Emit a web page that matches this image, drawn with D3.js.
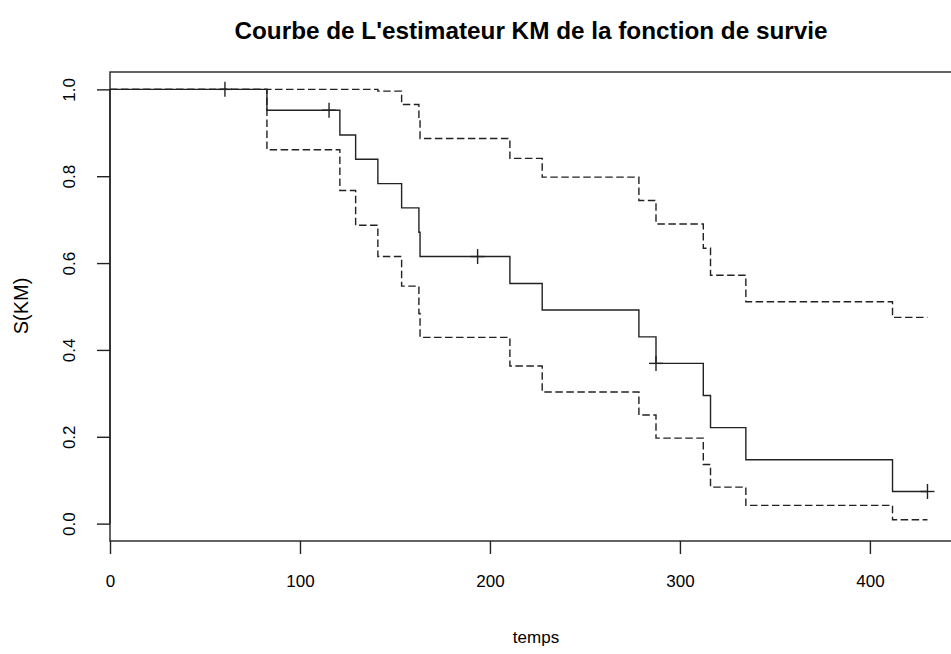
<!DOCTYPE html>
<html>
<head>
<meta charset="utf-8">
<script src="https://cdn.jsdelivr.net/npm/d3@7"></script>
<style>
  html, body { margin: 0; padding: 0; background: #fff; }
  svg text { font-family: "Liberation Sans", Arial, sans-serif; fill: #000; }
</style>
</head>
<body>
<svg id="chart" width="951" height="654"></svg>
<script>
// ---- Data ----
const stepTimes = [0, 82.6, 121, 129.3, 141, 153.5, 162.6, 163.2, 210.5, 227.5, 278.4, 287.4, 312.3, 316.1, 334.7, 411.9, 430.3];
const survival  = [1, 0.952, 0.895, 0.839, 0.783, 0.727, 0.671, 0.615, 0.553, 0.492, 0.430, 0.369, 0.295, 0.221, 0.147, 0.074, 0.074];
const upperCI   = [1, 1, 1, 1, 0.996, 0.965, 0.930, 0.887, 0.841, 0.798, 0.744, 0.690, 0.634, 0.572, 0.511, 0.475, 0.475];
const lowerCI   = [1, 0.861, 0.767, 0.687, 0.615, 0.547, 0.484, 0.429, 0.363, 0.303, 0.250, 0.197, 0.136, 0.084, 0.042, 0.009, 0.009];
const censorTimes = [60.5, 115.3, 193.5, 287.4, 430.3];
const censorSurv  = [1, 0.952, 0.615, 0.369, 0.074];
const xTicks = [0, 100, 200, 300, 400];
const yTicks = [0, 0.2, 0.4, 0.6, 0.8, 1.0];
const titleText = "Courbe de L'estimateur KM de la fonction de survie";
const xLabel = "temps";
const yLabel = "S(KM)";

// ---- Layout ----
const svg = d3.select("#chart");
const x = d3.scaleLinear().domain([0, 449]).range([110, 963]);
const y = d3.scaleLinear().domain([-0.04, 1.04]).range([541, 72]);
const ink = "#222";

// Box
svg.append("rect")
  .attr("x", x.range()[0]).attr("y", y.range()[1])
  .attr("width", x.range()[1] - x.range()[0])
  .attr("height", y.range()[0] - y.range()[1])
  .attr("fill", "none").attr("stroke", ink).attr("stroke-width", 1.4);

// Axes
const xAxis = svg.append("g")
  .attr("transform", `translate(0,${y.range()[0]})`)
  .call(d3.axisBottom(x).tickValues(xTicks).tickFormat(d3.format("d")).tickSize(13).tickPadding(21));
xAxis.select(".domain").remove();
xAxis.selectAll("line").attr("stroke", ink).attr("stroke-width", 1.4);
xAxis.selectAll("text").attr("font-size", 17).attr("font-family", null);

const yAxis = svg.append("g")
  .attr("transform", `translate(${x.range()[0]},0)`)
  .call(d3.axisLeft(y).tickValues(yTicks).tickFormat(d3.format(".1f")).tickSize(13));
yAxis.select(".domain").remove();
yAxis.selectAll("line").attr("stroke", ink).attr("stroke-width", 1.4);
yAxis.selectAll("text")
  .attr("font-size", 17).attr("font-family", null)
  .attr("x", 0).attr("dy", "0.35em")
  .attr("text-anchor", "middle")
  .attr("transform", "translate(-41,0) rotate(-90)");
svg.append("line")
  .attr("x1", x.range()[0]).attr("x2", x.range()[0])
  .attr("y1", y(0)).attr("y2", y(1))
  .attr("stroke", ink).attr("stroke-width", 1.4);

// Lines
const mk = vals => d3.line().x((d, i) => x(stepTimes[i])).y((d) => y(d)).curve(d3.curveStepAfter)(vals);

svg.append("path").attr("d", mk(upperCI))
  .attr("fill", "none").attr("stroke", ink).attr("stroke-width", 1.4).attr("stroke-dasharray", "7.5,3.5");
svg.append("path").attr("d", mk(lowerCI))
  .attr("fill", "none").attr("stroke", ink).attr("stroke-width", 1.4).attr("stroke-dasharray", "7.5,3.5");
svg.append("path").attr("d", mk(survival))
  .attr("fill", "none").attr("stroke", ink).attr("stroke-width", 1.4);

// Censor marks (+)
const cg = svg.append("g");
censorTimes.forEach((t, i) => {
  const cx = x(t), cy = y(censorSurv[i]);
  cg.append("line").attr("x1", cx - 7).attr("x2", cx + 7).attr("y1", cy).attr("y2", cy)
    .attr("stroke", ink).attr("stroke-width", 1.4);
  cg.append("line").attr("x1", cx).attr("x2", cx).attr("y1", cy - 7.5).attr("y2", cy + 7.5)
    .attr("stroke", ink).attr("stroke-width", 1.4);
});

// Titles
svg.append("text").attr("x", 531).attr("y", 30).attr("dy", "0.35em")
  .attr("text-anchor", "middle").attr("font-size", 24.3).attr("font-weight", "bold")
  .text(titleText);
svg.append("text").attr("x", 536).attr("y", 637).attr("dy", "0.35em")
  .attr("text-anchor", "middle").attr("font-size", 17).text(xLabel);
svg.append("text").attr("transform", `translate(21,306) rotate(-90)`).attr("dy", "0.35em")
  .attr("text-anchor", "middle").attr("font-size", 20).text(yLabel);
</script>
</body>
</html>
